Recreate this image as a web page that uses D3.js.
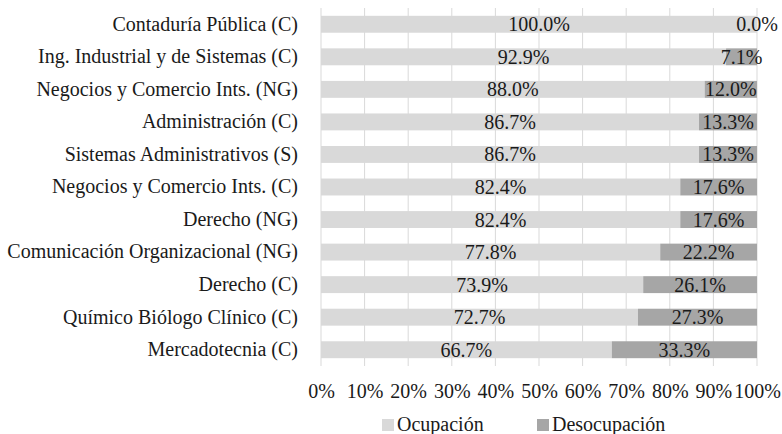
<!DOCTYPE html>
<html>
<head>
<meta charset="utf-8">
<script src="https://cdn.jsdelivr.net/npm/d3@7"></script>
<style>
  body { margin: 0; background: #fff; }
</style>
</head>
<body>
<div id="container"></div>
<script>
// carreras (de arriba hacia abajo)
var categories = [
    "Contaduría Pública (C)",
    "Ing. Industrial y de Sistemas (C)",
    "Negocios y Comercio Ints. (NG)",
    "Administración (C)",
    "Sistemas Administrativos (S)",
    "Negocios y Comercio Ints. (C)",
    "Derecho (NG)",
    "Comunicación Organizacional (NG)",
    "Derecho (C)",
    "Químico Biólogo Clínico (C)",
    "Mercadotecnia (C)"
];
var ocupacion = [100.0, 92.9, 88.0, 86.7, 86.7, 82.4, 82.4, 77.8, 73.9, 72.7, 66.7];
var desocupacion = [0.0, 7.1, 12.0, 13.3, 13.3, 17.6, 17.6, 22.2, 26.1, 27.3, 33.3];
var seriesNames = ["Ocupación", "Desocupación"];
var tickValues = [0, 10, 20, 30, 40, 50, 60, 70, 80, 90, 100];

var colors = ["#d9d9d9", "#a6a6a6"];
var font = "'Liberation Serif', 'Times New Roman', serif";
var fontSize = 20;
var textColor = "#1a1a1a";
var width = 782, height = 434;
var margin = {left: 321, right: 25, top: 8, bottom: 68};

var svg = d3.select("#container").append("svg")
    .attr("width", width)
    .attr("height", height);

var x = d3.scaleLinear().domain([0, 100]).range([margin.left, width - margin.right]);
var y = d3.scaleBand().domain(categories)
    .range([margin.top, height - margin.bottom])
    .paddingInner(0.48).paddingOuter(0.24);

// gridlines
svg.append("g").selectAll("line")
    .data(tickValues)
    .join("line")
    .attr("x1", d => x(d)).attr("x2", d => x(d))
    .attr("y1", margin.top).attr("y2", height - margin.bottom)
    .attr("stroke", "#d9d9d9")
    .attr("stroke-width", 1);

// stacked data
var rows = categories.map((c, i) => ({cat: c, "Ocupación": ocupacion[i], "Desocupación": desocupacion[i]}));
var stack = d3.stack().keys(seriesNames)(rows);

var groups = svg.append("g").selectAll("g")
    .data(stack)
    .join("g")
    .attr("fill", (d, i) => colors[i]);

groups.selectAll("rect")
    .data(d => d)
    .join("rect")
    .attr("x", d => x(d[0]))
    .attr("width", d => x(d[1]) - x(d[0]))
    .attr("y", d => y(d.data.cat))
    .attr("height", y.bandwidth());

// value labels
var labels = svg.append("g");
stack.forEach(function(s) {
    labels.selectAll(null)
        .data(s)
        .join("text")
        .attr("x", d => x((d[0] + d[1]) / 2))
        .attr("y", d => y(d.data.cat) + y.bandwidth() / 2)
        .attr("dy", "0.35em")
        .attr("text-anchor", "middle")
        .style("font-family", font)
        .style("font-size", fontSize + "px")
        .style("fill", textColor)
        .text(d => (d[1] - d[0]).toFixed(1) + "%");
});

// category axis
var yAxis = svg.append("g")
    .attr("transform", "translate(" + margin.left + ",0)")
    .call(d3.axisLeft(y).tickSize(0).tickPadding(23));
yAxis.select(".domain").remove();
yAxis.selectAll("text")
    .style("font-family", font)
    .style("font-size", fontSize + "px")
    .style("fill", textColor);

// value axis
var xAxis = svg.append("g")
    .attr("transform", "translate(0," + (height - margin.bottom) + ")")
    .call(d3.axisBottom(x).tickValues(tickValues).tickSize(0).tickPadding(18).tickFormat(d => d + "%"));
xAxis.select(".domain").remove();
xAxis.selectAll("text")
    .style("font-family", font)
    .style("font-size", fontSize + "px")
    .style("fill", textColor);

// legend
var legendX = [382, 537];
var legend = svg.append("g").selectAll("g")
    .data(seriesNames)
    .join("g")
    .attr("transform", (d, i) => "translate(" + legendX[i] + ",425)");
legend.append("rect")
    .attr("x", 0).attr("y", -6)
    .attr("width", 12).attr("height", 12)
    .attr("fill", (d, i) => colors[i]);
legend.append("text")
    .attr("x", 15).attr("dy", "0.32em")
    .style("font-family", font)
    .style("font-size", fontSize + "px")
    .style("fill", textColor)
    .text(d => d);
</script>
</body>
</html>
